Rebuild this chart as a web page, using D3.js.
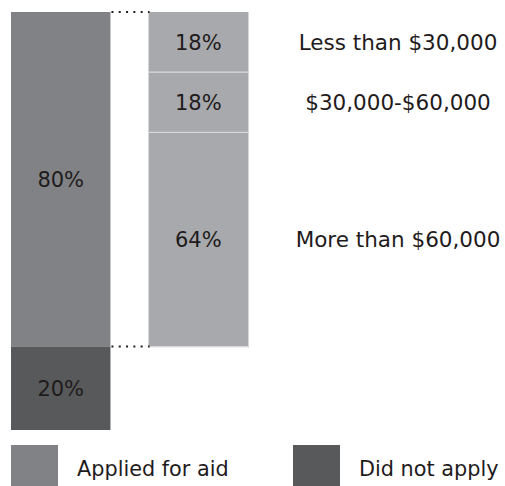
<!DOCTYPE html>
<html>
<head>
<meta charset="utf-8">
<script src="https://cdn.jsdelivr.net/npm/d3@7"></script>
<style>
  html, body { margin: 0; padding: 0; background: #fff; }
  svg text { font-family: "DejaVu Sans", sans-serif; fill: #1f1b1c; }
</style>
</head>
<body>
<svg id="chart" width="505" height="486"></svg>
<script>
// Share of students who applied for aid, and the income split of those who applied
const columns = ["All students", "Applied for aid"];
const applicationGroups = ["Applied for aid", "Did not apply"];
const applicationShares = [80, 20];
const incomeGroups = ["Less than $30,000", "$30,000-$60,000", "More than $60,000"];
const incomeShares = [18, 18, 64];

const colors = {
  applied: "#808285",
  notApplied: "#58595b",
  income: "#a7a9ac",
  divider: "#d6d7d9"
};

const svg = d3.select("#chart");

const x = d3.scaleBand().domain(columns).range([11, 248]).paddingInner(0.277).paddingOuter(0);
const y = d3.scaleLinear().domain([0, 100]).range([12, 430]);

// Left column: stacked applied / did not apply
let acc = 0;
const leftStack = applicationShares.map((v, i) => {
  const d = { group: applicationGroups[i], value: v, y0: acc, y1: acc + v };
  acc += v;
  return d;
});

const leftCol = svg.append("g");
leftCol.selectAll("rect")
  .data(leftStack)
  .join("rect")
  .attr("x", x(columns[0]))
  .attr("width", x.bandwidth())
  .attr("y", d => y(d.y0))
  .attr("height", d => y(d.y1) - y(d.y0))
  .attr("fill", (d, i) => i === 0 ? colors.applied : colors.notApplied);

leftCol.selectAll("text")
  .data(leftStack)
  .join("text")
  .attr("x", x(columns[0]) + x.bandwidth() / 2)
  .attr("y", d => (y(d.y0) + y(d.y1)) / 2)
  .attr("dy", "0.36em")
  .attr("text-anchor", "middle")
  .attr("font-size", 21)
  .text(d => d.value + "%");

// Right column: the applied share broken down by income
const yIncome = d3.scaleLinear().domain([0, 100]).range([y(0), y(applicationShares[0])]);
acc = 0;
const rightStack = incomeShares.map((v, i) => {
  const d = { group: incomeGroups[i], value: v, y0: acc, y1: acc + v };
  acc += v;
  return d;
});

const rightCol = svg.append("g");
rightCol.selectAll("rect")
  .data(rightStack)
  .join("rect")
  .attr("x", x(columns[1]))
  .attr("width", x.bandwidth())
  .attr("y", d => yIncome(d.y0))
  .attr("height", d => yIncome(d.y1) - yIncome(d.y0))
  .attr("fill", colors.income);

// thin light separators and right edge
rightCol.selectAll("line.sep")
  .data(rightStack.slice(1))
  .join("line")
  .attr("class", "sep")
  .attr("x1", x(columns[1]))
  .attr("x2", x(columns[1]) + x.bandwidth())
  .attr("y1", d => yIncome(d.y0))
  .attr("y2", d => yIncome(d.y0))
  .attr("stroke", colors.divider)
  .attr("stroke-width", 1.2);

rightCol.append("line")
  .attr("x1", x(columns[1]) + x.bandwidth() + 0.5)
  .attr("x2", x(columns[1]) + x.bandwidth() + 0.5)
  .attr("y1", yIncome(0))
  .attr("y2", yIncome(100) + 1)
  .attr("stroke", colors.divider)
  .attr("stroke-width", 1);
rightCol.append("line")
  .attr("x1", x(columns[1]))
  .attr("x2", x(columns[1]) + x.bandwidth() + 1)
  .attr("y1", yIncome(100) + 0.5)
  .attr("y2", yIncome(100) + 0.5)
  .attr("stroke", colors.divider)
  .attr("stroke-width", 1);

rightCol.selectAll("text.pct")
  .data(rightStack)
  .join("text")
  .attr("class", "pct")
  .attr("x", x(columns[1]) + x.bandwidth() / 2)
  .attr("y", d => (yIncome(d.y0) + yIncome(d.y1)) / 2)
  .attr("dy", "0.36em")
  .attr("text-anchor", "middle")
  .attr("font-size", 21)
  .text(d => d.value + "%");

rightCol.selectAll("text.cat")
  .data(rightStack)
  .join("text")
  .attr("class", "cat")
  .attr("x", 398)
  .attr("y", d => (yIncome(d.y0) + yIncome(d.y1)) / 2)
  .attr("dy", "0.36em")
  .attr("text-anchor", "middle")
  .attr("font-size", 21.5)
  .text(d => d.group);

// Dotted connectors between the columns
const connectorYs = [y(0), y(applicationShares[0])];
svg.append("g").selectAll("line")
  .data(connectorYs)
  .join("line")
  .attr("x1", x(columns[0]) + x.bandwidth() + 1)
  .attr("x2", x(columns[1]) + 1)
  .attr("y1", d => d)
  .attr("y2", d => d)
  .attr("stroke", "#231f20")
  .attr("stroke-width", 2)
  .attr("stroke-dasharray", "2 5.3");

// Legend
const legendItems = [
  { label: applicationGroups[0], color: colors.applied, x: 11 },
  { label: applicationGroups[1], color: colors.notApplied, x: 293 }
];
const legend = svg.append("g").selectAll("g")
  .data(legendItems)
  .join("g")
  .attr("transform", d => `translate(${d.x},445)`);
legend.append("rect")
  .attr("width", 47)
  .attr("height", 42)
  .attr("fill", d => d.color);
legend.append("text")
  .attr("x", 66)
  .attr("y", 31)
  .attr("font-size", 20.8)
  .text(d => d.label);
</script>
</body>
</html>
